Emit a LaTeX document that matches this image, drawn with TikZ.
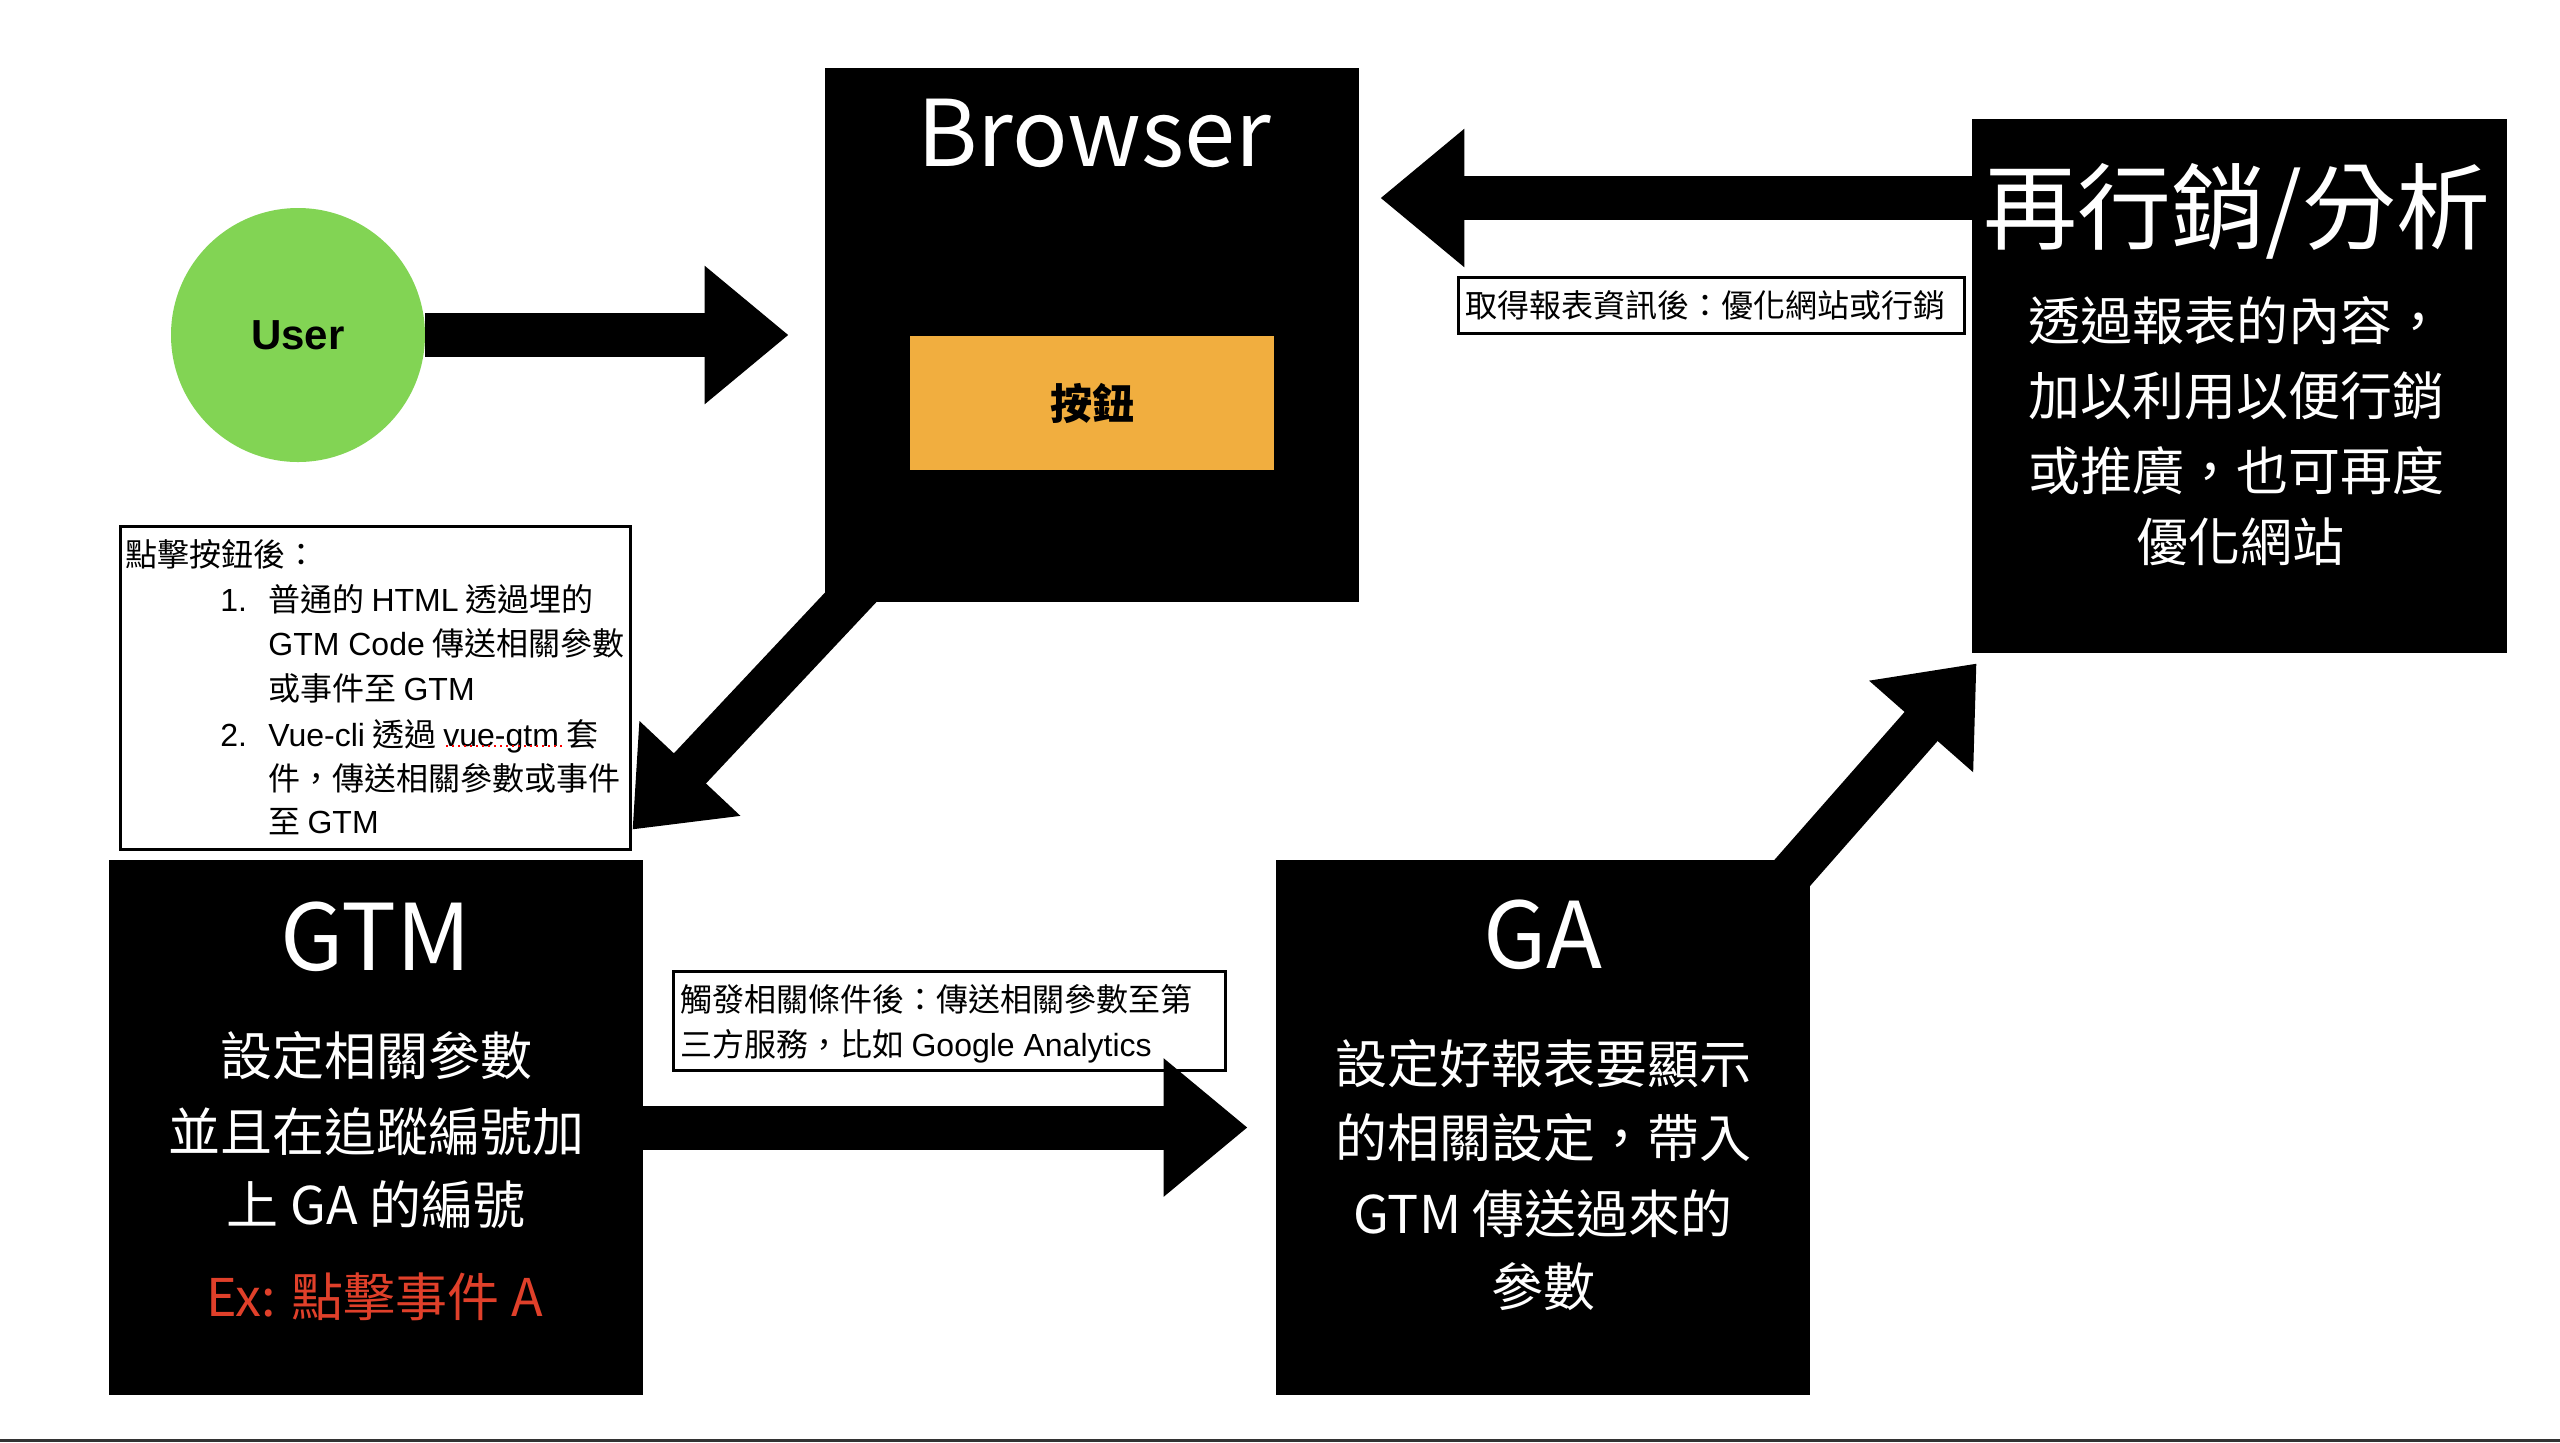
\documentclass[tikz,border=0pt]{standalone}
\usepackage{fontspec}
\setmainfont{Noto Sans CJK TC}
\newfontfamily\lib{Liberation Sans}
\usetikzlibrary{arrows.meta}
\definecolor{usergreen}{HTML}{82D454}
\definecolor{btnorange}{HTML}{F1AE3F}
\definecolor{exred}{HTML}{E0402A}
\definecolor{rulegray}{HTML}{333333}
\begin{document}
\begin{tikzpicture}[x=0.5pt,y=-0.5pt,
  blackbox/.style={fill=black, inner sep=0pt, minimum width=267pt, minimum height=267pt},
  labelbox/.style={draw=black, line width=1.5pt, fill=white, inner sep=0pt},
  blockarrow/.style={line width=22pt, -{Triangle[length=42pt,width=66.5pt]}},
  titletext/.style={text=white, font=\fontsize{46pt}{50pt}\selectfont, inner sep=0pt, anchor=base},
  bodytext/.style={text=white, font=\fontsize{26pt}{30pt}\selectfont, inner sep=0pt, text height=22.9pt, text depth=3.1pt},
  notetext/.style={font=\fontsize{16pt}{19pt}\selectfont, inner sep=0pt, text height=14.1pt, text depth=1.9pt, anchor=west}
]
\useasboundingbox (0,0) rectangle (2560,1442);
\fill[white] (0,0) rectangle (2560,1442);
\fill[rulegray] (0,1439) rectangle (2560,1442);

% main boxes
\node[blackbox] (browser) at (1092,335) {};
\node[blackbox, minimum width=267.5pt] (remk) at (2239.5,386) {};
\node[blackbox, minimum height=267.5pt] (gtm) at (376,1127.5) {};
\node[blackbox, minimum height=267.5pt] (ga) at (1543,1127.5) {};
\node[fill=btnorange, minimum width=182pt, minimum height=67pt, inner sep=0pt,
      font=\bfseries\fontsize{21pt}{24pt}\selectfont] (btn) at (1092,403) {按鈕};
\node[circle, fill=usergreen, minimum size=127pt, inner sep=0pt,
      font=\lib\bfseries\fontsize{21pt}{24pt}\selectfont] (user) at (298,335) {User};

% label boxes
\node[labelbox, minimum width=255pt, minimum height=161.5pt] (note) at (375.5,688) {};
\node[labelbox, minimum width=253pt, minimum height=28pt] (lab1) at (1711.5,305.5) {};
\node[labelbox, minimum width=276pt, minimum height=49.5pt] (lab2) at (949.5,1021) {};

% arrows
\draw[blockarrow] (user.east) -- ([xshift=-18pt]browser.west);
\draw[blockarrow] ([yshift=94pt]remk.west) -- ([xshift=10.5pt,yshift=68.5pt]browser.east);
\draw[blockarrow] ([xshift=23.8pt,yshift=14pt]browser.south west) -- ([xshift=-5.5pt,yshift=15pt]gtm.north east);
\draw[blockarrow] (gtm.east) -- ([xshift=-14pt]ga.west);
\draw[blockarrow] ([xshift=-11.8pt,yshift=-9.75pt]ga.north east) -- ([xshift=2.5pt,yshift=-5pt]remk.south west);

% titles
\node[titletext] (tbrowser) at (1094,166) {Browser};
\node[titletext] (tgtm) at (376,970) {GTM};
\node[titletext] (tga) at (1543,968) {GA};
\node[text=white, font=\fontsize{47pt}{52pt}\selectfont, inner sep=0pt, text height=41.4pt, text depth=5.6pt] (tremk) at (2237,207) {再行銷/分析};

% remarketing body
\node[bodytext] (r1) at (2236,321) {透過報表的內容，};
\node[bodytext] (r2) at (2236,396) {加以利用以便行銷};
\node[bodytext] (r3) at (2236,471) {或推廣，也可再度};
\node[bodytext] (r4) at (2240,542) {優化網站};

% GTM body
\node[bodytext] (g1) at (376,1056) {設定相關參數};
\node[bodytext] (g2) at (376,1132) {並且在追蹤編號加};
\node[bodytext] (g3) at (376,1205) {上 GA 的編號};
\node[bodytext, text=exred] (g4) at (375,1297) {Ex: 點擊事件 A};

% GA body
\node[bodytext] (a1) at (1543,1064) {設定好報表要顯示};
\node[bodytext] (a2) at (1543,1138) {的相關設定，帶入};
\node[bodytext] (a3) at (1543,1214) {GTM 傳送過來的};
\node[bodytext] (a4) at (1543,1287) {參數};

% note text
\node[notetext] (n0) at (125,554) {點擊按鈕後：};
\node[notetext] (n1a) at (220,599) {\lib 1.};
\node[notetext] (n1) at (268,599) {普通的 {\lib HTML} 透過埋的};
\node[notetext] (n2) at (268,643) {{\lib GTM Code} 傳送相關參數};
\node[notetext] (n3) at (268,688) {或事件至 {\lib GTM}};
\node[notetext] (n4a) at (220,734) {\lib 2.};
\node[notetext] (n4) at (268,734) {{\lib Vue-cli} 透過 {\lib vue-gtm} 套};
\node[notetext] (n5) at (268,778) {件，傳送相關參數或事件};
\node[notetext] (n6) at (268,821) {至 {\lib GTM}};
\draw[red, dotted, line width=1pt] (446,746) -- (562,746);

% label texts
\node[notetext] (l1) at (1465,305) {取得報表資訊後：優化網站或行銷};
\node[notetext] (l2a) at (680,999) {觸發相關條件後：傳送相關參數至第};
\node[notetext] (l2b) at (680,1044) {三方服務，比如 {\lib Google Analytics}};
\end{tikzpicture}
\end{document}
